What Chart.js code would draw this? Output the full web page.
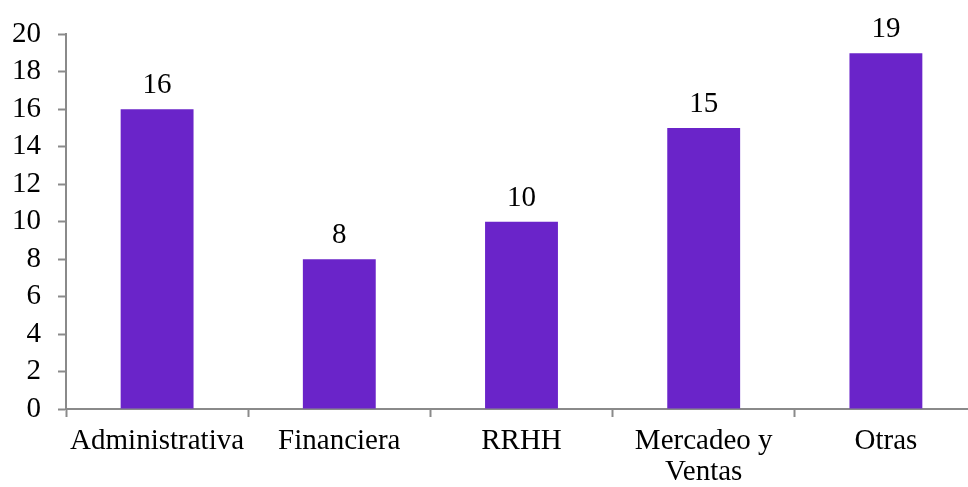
<!DOCTYPE html>
<html>
<head>
<meta charset="utf-8">
<script src="https://cdn.jsdelivr.net/npm/chart.js@4"></script>
<style>
  html, body { margin: 0; padding: 0; background: #fff; overflow: hidden; }
  #wrap { width: 980px; height: 487px; position: relative; }
</style>
</head>
<body>
<div id="wrap"><canvas id="chart"></canvas></div>
<script>
// areas and number of people in each
const categories = ['Administrativa', 'Financiera', 'RRHH', ['Mercadeo y', 'Ventas'], 'Otras'];
const values = [16, 8, 10, 15, 19];
const yTicks = [0, 2, 4, 6, 8, 10, 12, 14, 16, 18, 20];

const serif = "'Liberation Serif', 'Times New Roman', serif";
const axisGray = '#8a8a8a';

// writes the value above each bar
const valueLabels = {
    id: 'valueLabels',
    afterDatasetsDraw(chart) {
        const ctx = chart.ctx;
        const meta = chart.getDatasetMeta(0);
        ctx.save();
        ctx.font = '29px ' + serif;
        ctx.fillStyle = '#000';
        ctx.textAlign = 'center';
        ctx.textBaseline = 'alphabetic';
        meta.data.forEach((bar, i) => {
            ctx.fillText(String(values[i]), bar.x, bar.y - 16);
        });
        ctx.restore();
    }
};

new Chart(document.getElementById('chart'), {
    type: 'bar',
    data: {
        labels: categories,
        datasets: [{
            data: values,
            backgroundColor: '#6a24c9',
            borderWidth: 0,
            barPercentage: 0.4,
            categoryPercentage: 1.0
        }]
    },
    options: {
        responsive: true,
        maintainAspectRatio: false,
        animation: false,
        layout: { padding: { top: 33, right: 3, left: 0, bottom: 0 } },
        plugins: {
            legend: { display: false },
            tooltip: { enabled: false }
        },
        scales: {
            x: {
                grid: {
                    drawOnChartArea: false,
                    drawTicks: true,
                    tickLength: 8,
                    tickWidth: 2,
                    color: axisGray,
                    offset: true
                },
                border: { color: axisGray, width: 2 },
                ticks: {
                    color: '#000',
                    padding: 8,
                    maxRotation: 0,
                    autoSkip: false,
                    font: { family: serif, size: 29, lineHeight: 1.1 }
                },
                afterFit(scale) { scale.height = 78; }
            },
            y: {
                min: 0,
                max: 20,
                afterBuildTicks(scale) {
                    scale.ticks = yTicks.map(v => ({ value: v }));
                },
                grid: {
                    drawOnChartArea: false,
                    drawTicks: true,
                    tickLength: 8,
                    tickWidth: 2,
                    color: axisGray
                },
                border: { color: axisGray, width: 2 },
                ticks: {
                    color: '#000',
                    padding: 17,
                    autoSkip: false,
                    font: { family: serif, size: 29 }
                },
                afterFit(scale) { scale.width = 66; }
            }
        }
    },
    plugins: [valueLabels]
});
</script>
</body>
</html>
